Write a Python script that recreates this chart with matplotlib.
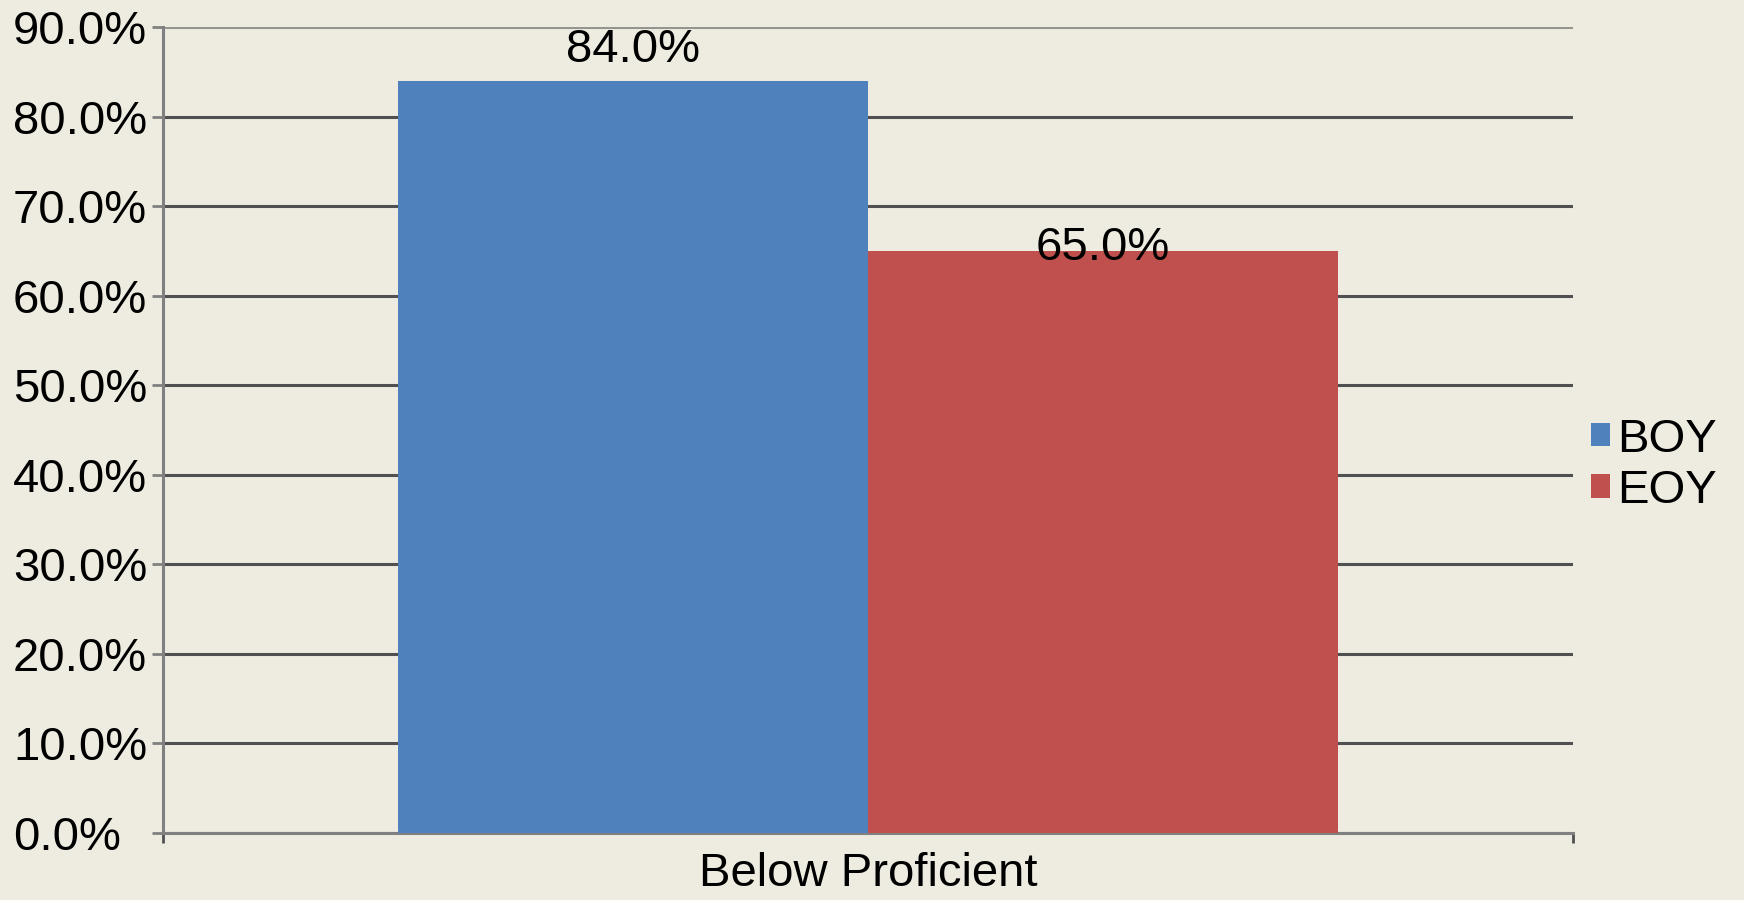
import matplotlib.pyplot as plt
from matplotlib.ticker import PercentFormatter

categories = ['Below Proficient']
series_names = ['BOY', 'EOY']
series_values = [0.84, 0.65]
series_colors = ['#4F81BD', '#C0504D']
y_ticks = [0.0, 0.1, 0.2, 0.3, 0.4, 0.5, 0.6, 0.7, 0.8, 0.9]

bg = '#EEECE1'
plt.rcParams['font.family'] = ['Liberation Sans', 'DejaVu Sans']

fig = plt.figure(figsize=(17.44, 9.0), dpi=100, facecolor=bg)
ax = fig.add_axes([0.0935, 0.0744, 0.8085, 0.8956], facecolor=bg)

width = 1 / 3
offsets = [-width / 2, width / 2]
for name, val, col, off in zip(series_names, series_values, series_colors, offsets):
    ax.bar(0 + off, val, width=width, color=col, label=name, zorder=3)

# value labels
ax.annotate(f'{series_values[0]*100:.1f}%', (offsets[0], series_values[0]),
            xytext=(0, 6), textcoords='offset points', ha='center', va='bottom',
            fontsize=34, zorder=5)
ax.annotate(f'{series_values[1]*100:.1f}%', (offsets[1], series_values[1]),
            xytext=(0, 2), textcoords='offset points', ha='center', va='center',
            fontsize=34, zorder=5)

ax.set_xlim(-0.5, 0.5)
ax.set_ylim(0, 0.9)
ax.set_yticks(y_ticks)
ax.yaxis.set_major_formatter(PercentFormatter(1.0, decimals=1))
ax.yaxis.grid(True, color='#505050', linewidth=2.2)
ax.set_axisbelow(True)
# top gridline is lighter in the reference
ax.get_ygridlines()[-1].set_color('#959590')

ax.tick_params(axis='y', length=8, width=2, color='#808080', labelsize=34, pad=100)
for lab in ax.get_yticklabels():
    lab.set_horizontalalignment('left')

ax.set_xticks([-0.5, 0.5])
ax.set_xticklabels(['', ''])
ax.tick_params(axis='x', which='major', length=7, width=2, color='#505050')
ax.set_xticks([0], categories, minor=True)
ax.tick_params(axis='x', which='minor', length=0, labelsize=34, pad=14)

for s in ['top', 'right']:
    ax.spines[s].set_visible(False)
ax.spines['left'].set_color('#808080')
ax.spines['left'].set_linewidth(2.2)
ax.spines['bottom'].set_color('#808080')
ax.spines['bottom'].set_linewidth(2.2)

fig.legend(loc='center left', bbox_to_anchor=(0.912, 0.483), frameon=False,
           fontsize=34, handlelength=0.42, handleheight=0.38,
           handletextpad=0.14, labelspacing=0.15, borderpad=0, borderaxespad=0)

fig.savefig('out.png', dpi=100, facecolor=bg)
